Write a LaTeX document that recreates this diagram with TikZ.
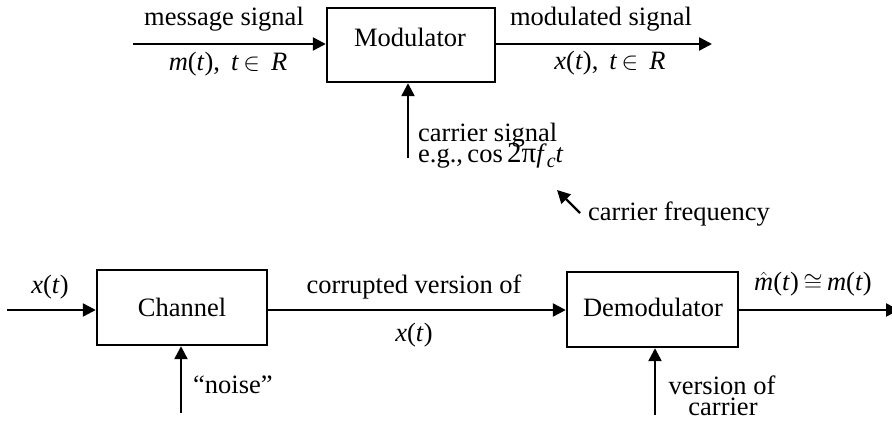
\documentclass[tikz,border=0pt]{standalone}
\usepackage{fontspec}
\setmainfont{Liberation Serif}
\usetikzlibrary{arrows.meta}
\newcommand{\vi}[1]{\textit{#1}}
\begin{document}
\begin{tikzpicture}[x=1pt,y=-1pt,
  blk/.style={draw,line width=2.4pt,inner sep=0pt},
  lbl/.style={inner sep=0pt,font=\fontsize{26.5}{30}\selectfont},
  conn/.style={line width=2.4pt,-{Triangle[length=13pt,width=13pt]}}]
\useasboundingbox (0,0) rectangle (892,427);
\clip (0,0) rectangle (892,427);
% boxes
\node[blk,minimum width=168pt,minimum height=74pt] (mod) at (411,45) {};
\node[blk,minimum width=170pt,minimum height=75pt] (chan) at (182,307.5) {};
\node[blk,minimum width=171pt,minimum height=75pt] (demod) at (652.5,309.5) {};
\node[lbl,anchor=base] (modt) at (410,47) {Modulator};
\node[lbl,anchor=base] (chant) at (182,317) {Channel};
\node[lbl,anchor=base] (demodt) at (653,317) {Demodulator};
% free ends
\coordinate (mIn) at (133,44);
\coordinate (mOut) at (712,44);
\coordinate (cIn) at (408,158);
\coordinate (fTail) at (580,213);
\coordinate (fTip) at (557,190);
\coordinate (xIn) at (7,310);
\coordinate (nIn) at (181,413);
\coordinate (vIn) at (655,415);
\coordinate (dOut) at (899,310);
% connectors
\draw[conn] (mIn) -- (mIn -| mod.west);
\draw[conn] (mOut -| mod.east) -- (mOut);
\draw[conn] (cIn) -- (cIn |- mod.south);
\draw[conn] (fTail) -- (fTip);
\draw[conn] (xIn) -- (xIn -| chan.west);
\draw[conn] (nIn) -- (nIn |- chan.south);
\draw[conn] (xIn -| chan.east) -- (xIn -| demod.west);
\draw[conn] (vIn) -- (vIn |- demod.south);
\draw[conn] (xIn -| demod.east) -- (dOut);
% labels
\node[lbl,anchor=base] (l1) at (224,26) {message signal};
\node[lbl,anchor=base] (l2) at (228,71) {\vi{m}(\vi{t}),\, \vi{t}\,$\in$\, \vi{R}};
\node[lbl,anchor=base] (l3) at (601,26) {modulated signal};
\node[lbl,anchor=base] (l4) at (610,70) {\vi{x}(\vi{t}),\, \vi{t}\,$\in$\, \vi{R}};
\node[lbl,anchor=base west] (l5) at (418,142) {carrier signal};
\node[lbl,anchor=base west] (l6) at (418,163) {e.g.,\,cos\,{\fontsize{29}{30}\selectfont 2π}\vi{f}\raisebox{-5pt}{\fontsize{20}{20}\selectfont\vi{c}}\vi{t}};
\node[lbl,anchor=base west] (l7) at (588,221) {carrier frequency};
\node[lbl,anchor=base] (l8) at (50,294) {\vi{x}(\vi{t})};
\node[lbl,anchor=base] (l9) at (414,294) {corrupted version of};
\node[lbl,anchor=base] (l10) at (414,342) {\vi{x}(\vi{t})};
\node[lbl,anchor=base west] (l11) at (193,394) {``noise''};
\node[lbl,anchor=base] (l12) at (722,395) {version of};
\node[lbl,anchor=base] (l13) at (723,416) {carrier};
\node[lbl,anchor=base] (l14) at (813,291) {$\hat{\mbox{\vi{m}}}$(\vi{t})\,$\cong$\,\vi{m}(\vi{t})};
\end{tikzpicture}
\end{document}
